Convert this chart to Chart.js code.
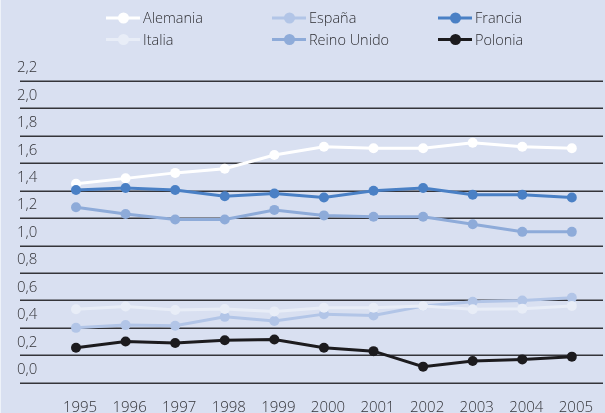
<!DOCTYPE html>
<html lang="es">
<head>
<meta charset="utf-8">
<title>Evolución 1995–2005</title>
<script src="https://cdn.jsdelivr.net/npm/chart.js@4.4.1/dist/chart.umd.min.js"></script>
<style>
  html, body { margin: 0; padding: 0; background: #d9e0f1; }
  #wrap { position: relative; width: 605px; height: 413px; background: #d9e0f1; box-shadow: inset 1px 0 0 #eef2f9; }
  canvas { display: block; }
</style>
</head>
<body>
<div id="wrap"><canvas id="chart" width="605" height="413"></canvas></div>
<script>
// Years on the horizontal axis
const years = ['1995', '1996', '1997', '1998', '1999', '2000', '2001', '2002', '2003', '2004', '2005'];

// Series values per country
const alemania   = [1.45, 1.49, 1.53, 1.56, 1.66, 1.72, 1.71, 1.71, 1.75, 1.72, 1.71];
const espana     = [0.40, 0.42, 0.415, 0.48, 0.45, 0.50, 0.49, 0.56, 0.59, 0.60, 0.62];
const francia    = [1.405, 1.42, 1.405, 1.36, 1.38, 1.35, 1.40, 1.42, 1.37, 1.37, 1.35];
const italia     = [0.535, 0.555, 0.53, 0.537, 0.52, 0.547, 0.547, 0.56, 0.535, 0.54, 0.56];
const reinoUnido = [1.28, 1.23, 1.19, 1.19, 1.26, 1.22, 1.21, 1.21, 1.155, 1.10, 1.10];
const polonia    = [0.255, 0.30, 0.29, 0.31, 0.315, 0.255, 0.23, 0.117, 0.158, 0.17, 0.19];

// Vertical axis tick labels (decimal comma)
const yTickLabels = ['0,0', '0,2', '0,4', '0,6', '0,8', '1,0', '1,2', '1,4', '1,6', '1,8', '2,0', '2,2'];

const seriesNames = ['Alemania', 'España', 'Francia', 'Italia', 'Reino Unido', 'Polonia'];
const seriesData  = [alemania, espana, francia, italia, reinoUnido, polonia];
const seriesColors = ['#ffffff', '#b2c5e7', '#4a80c5', '#e8edf7', '#8eabd9', '#1c1b1e'];
// lower value = drawn on top
const drawOrder = [3, 5, 2, 4, 1, 0];

const FONT = '"Open Sans", "Noto Sans", "DejaVu Sans", sans-serif';

// Horizontal rules running across the full width, under the value labels too
const fullGrid = {
  id: 'fullGrid',
  beforeDatasetsDraw(chart) {
    const y = chart.scales.y;
    const ctx = chart.ctx;
    ctx.save();
    ctx.strokeStyle = '#35353a';
    ctx.lineWidth = 1.6;
    y.ticks.forEach(t => {
      const py = Math.round(y.getPixelForValue(t.value)) + 0.25;
      ctx.beginPath();
      ctx.moveTo(20, py);
      ctx.lineTo(603, py);
      ctx.stroke();
    });
    ctx.restore();
  }
};

// Three-column legend with line-and-marker swatches
const gridLegend = {
  id: 'gridLegend',
  afterDraw(chart) {
    const ctx = chart.ctx;
    ctx.save();
    ctx.font = '300 14.5px ' + FONT;
    ctx.textBaseline = 'middle';
    ctx.textAlign = 'left';
    seriesNames.forEach((name, i) => {
      const col = i % 3, row = Math.floor(i / 3);
      const x0 = 106 + col * 166;
      const yy = 18 + row * 21.5;
      ctx.strokeStyle = seriesColors[i];
      ctx.lineWidth = 3;
      ctx.beginPath();
      ctx.moveTo(x0, yy);
      ctx.lineTo(x0 + 34, yy);
      ctx.stroke();
      ctx.fillStyle = seriesColors[i];
      ctx.beginPath();
      ctx.arc(x0 + 17.5, yy, 5.5, 0, Math.PI * 2);
      ctx.fill();
      ctx.fillStyle = '#2e2e33';
      ctx.fillText(name, x0 + 37, yy + 1);
    });
    ctx.restore();
  }
};

new Chart(document.getElementById('chart'), {
  type: 'line',
  data: {
    labels: years,
    datasets: seriesNames.map((name, i) => ({
      label: name,
      data: seriesData[i],
      borderColor: seriesColors[i],
      backgroundColor: seriesColors[i],
      pointBackgroundColor: seriesColors[i],
      pointBorderColor: seriesColors[i],
      pointBorderWidth: 0,
      pointRadius: 5,
      borderWidth: 3,
      tension: 0,
      order: drawOrder[i]
    }))
  },
  options: {
    responsive: false,
    animation: false,
    layout: { padding: { left: 17, right: 23, top: 81, bottom: 0 } },
    plugins: {
      legend: { display: false },
      tooltip: { enabled: false }
    },
    scales: {
      x: {
        offset: false,
        grid: { display: false, drawTicks: false },
        border: { display: false },
        ticks: {
          color: '#333338',
          font: { family: FONT, size: 15, weight: '300' },
          padding: 16,
          labelOffset: 4,
          maxRotation: 0,
          autoSkip: false
        },
        afterFit(scale) { scale.height = 30.3; }
      },
      y: {
        min: 0,
        max: 2.2,
        grid: { display: false, drawTicks: false },
        border: { display: false },
        ticks: {
          stepSize: 0.2,
          crossAlign: 'far',
          labelOffset: -13,
          padding: 0,
          color: '#333338',
          font: { family: FONT, size: 15, weight: '300' },
          callback: (v, idx) => yTickLabels[idx]
        },
        afterFit(scale) { scale.width = 59; }
      }
    }
  },
  plugins: [fullGrid, gridLegend]
});
</script>
</body>
</html>
